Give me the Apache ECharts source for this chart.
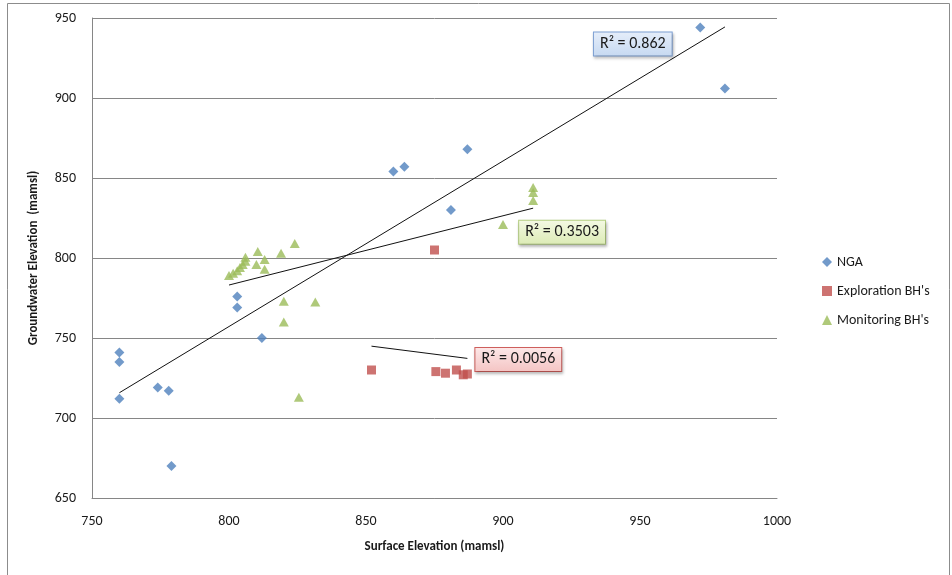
<!DOCTYPE html>
<html>
<head>
<meta charset="utf-8">
<script src="https://cdn.jsdelivr.net/npm/echarts@6/dist/echarts.min.js"></script>
<style>
html,body{margin:0;padding:0;background:#fff;}
#c{width:952px;height:575px;}
</style>
</head>
<body>
<div id="c"></div>
<script>
// ---- data ----
const seriesNames = ["NGA", "Exploration BH's", "Monitoring BH's"];
const ngaX = [760, 760, 760, 774, 778, 779, 803, 803, 812, 860, 864, 881, 887, 972, 981];
const ngaY = [741, 735, 712, 719, 717, 670, 776, 769, 750, 854, 857, 830, 868, 944, 906];
const expX = [852, 875, 875.5, 879, 883, 885.5, 887];
const expY = [730, 805, 729, 728, 730, 727, 727.5];
const monX = [800, 801.5, 803, 804, 805, 806, 806, 810.5, 810, 813, 813, 819, 824, 820, 831.5, 820, 825.5, 900, 911, 911, 911];
const monY = [789, 790.5, 792, 794, 796, 798, 800.5, 804, 796, 799, 793, 803, 809, 773, 772.5, 760, 713, 821, 844, 841, 836];
const r2Labels = ["R\u00b2 = 0.862", "R\u00b2 = 0.0056", "R\u00b2 = 0.3503"];
const xTicks = [750, 800, 850, 900, 950, 1000];
const yTicks = [650, 700, 750, 800, 850, 900, 950];

const colors = ['#4F81BD', '#C0504D', '#9BBB59'];
const FONT = 'Carlito, "Liberation Sans Narrow", "Open Sans", sans-serif';

function pairs(xs, ys) { return xs.map((x, i) => [x, ys[i]]); }
function trend(xs, ys) {
  const n = xs.length;
  const mx = xs.reduce((a, b) => a + b, 0) / n;
  const my = ys.reduce((a, b) => a + b, 0) / n;
  let sxy = 0, sxx = 0;
  for (let i = 0; i < n; i++) { sxy += (xs[i] - mx) * (ys[i] - my); sxx += (xs[i] - mx) ** 2; }
  const b = sxy / sxx, a = my - b * mx;
  const x0 = Math.min(...xs), x1 = Math.max(...xs);
  return [[x0, a + b * x0], [x1, a + b * x1]];
}

const labelBoxes = [
  { bg: new echarts.graphic.LinearGradient(0,0,0,1,[{offset:0,color:'#e6eefa'},{offset:1,color:'#c6d9f1'}]), border: '#7fa2d6', offset: [-131, 17] },
  { bg: new echarts.graphic.LinearGradient(0,0,0,1,[{offset:0,color:'#fde9e9'},{offset:1,color:'#f4c4c3'}]), border: '#cf5f5c', offset: [8, 1] },
  { bg: new echarts.graphic.LinearGradient(0,0,0,1,[{offset:0,color:'#f4f9e4'},{offset:1,color:'#dcebb5'}]), border: '#b5cf82', offset: [-14, 24] }
];

const scatterData = [pairs(ngaX, ngaY), pairs(expX, expY), pairs(monX, monY)];
const symbols = ['diamond', 'rect', 'triangle'];
const symSizes = [[10, 10], [9, 9], [10, 9]];

const series = [];
scatterData.forEach((d, i) => {
  series.push({
    name: seriesNames[i], type: 'scatter', data: d,
    symbol: symbols[i], symbolSize: symSizes[i],
    itemStyle: { color: colors[i] }, z: 3
  });
});
const trendData = [trend(ngaX, ngaY), trend(expX, expY), trend(monX, monY)];
trendData.forEach((t, i) => {
  const lb = labelBoxes[i];
  series.push({
    name: 'trend' + i, type: 'line', data: [
      { value: t[0] },
      { value: t[1], label: {
          show: true, position: 'right', distance: 0, offset: lb.offset,
          formatter: r2Labels[i],
          fontFamily: FONT, fontSize: 16, color: '#1a1a1a',
          backgroundColor: lb.bg, borderColor: lb.border, borderWidth: 1,
          padding: [4, 6, 3, 6],
          shadowColor: 'rgba(0,0,0,0.25)', shadowBlur: 3, shadowOffsetX: 1, shadowOffsetY: 2
      } }
    ],
    showSymbol: true, symbol: 'circle', symbolSize: 0.01,
    lineStyle: { color: '#111', width: 1 }, itemStyle: { color: '#111' },
    silent: true, z: 4, animation: false
  });
});

const chart = echarts.init(document.getElementById('c'), null, { renderer: 'canvas' });
chart.setOption({
  animation: false,
  backgroundColor: '#fff',
  textStyle: { fontFamily: FONT },
  grid: { left: 92, top: 18, width: 685, height: 480, containLabel: false },
  xAxis: {
    type: 'value', min: xTicks[0], max: xTicks[xTicks.length - 1], interval: 50,
    name: 'Surface Elevation (mamsl)', nameLocation: 'middle', nameGap: 42,
    nameTextStyle: { fontFamily: FONT, fontSize: 13, fontWeight: 'bold', color: '#1a1a1a' },
    axisLine: { show: true, lineStyle: { color: '#868686', width: 1 } },
    axisTick: { show: false },
    axisLabel: { fontFamily: FONT, fontSize: 14, color: '#1a1a1a', margin: 16, formatter: v => String(v) },
    splitLine: { show: false }
  },
  yAxis: {
    type: 'value', min: yTicks[0], max: yTicks[yTicks.length - 1], interval: 50,
    name: 'Groundwater Elevation  (mamsl)', nameLocation: 'middle', nameGap: 52,
    nameTextStyle: { fontFamily: FONT, fontSize: 13, fontWeight: 'bold', color: '#1a1a1a' },
    axisLine: { show: true, lineStyle: { color: '#868686', width: 1 } },
    axisTick: { show: false },
    axisLabel: { fontFamily: FONT, fontSize: 14, color: '#1a1a1a', margin: 16, formatter: v => String(v) },
    splitLine: { show: true, lineStyle: { color: '#868686', width: 1 } }
  },
  legend: {
    data: seriesNames, orient: 'vertical', left: 817, top: 250, itemGap: 15,
    itemWidth: 10, itemHeight: 10,
    textStyle: { fontFamily: FONT, fontSize: 14, color: '#1a1a1a' }
  },
  graphic: [{
    type: 'rect', left: 5, top: 1, silent: true,
    shape: { width: 942, height: 600 },
    style: { fill: 'none', stroke: '#8c8c8c', lineWidth: 1 }, z: -1
  }],
  series: series
});
</script>
</body>
</html>
